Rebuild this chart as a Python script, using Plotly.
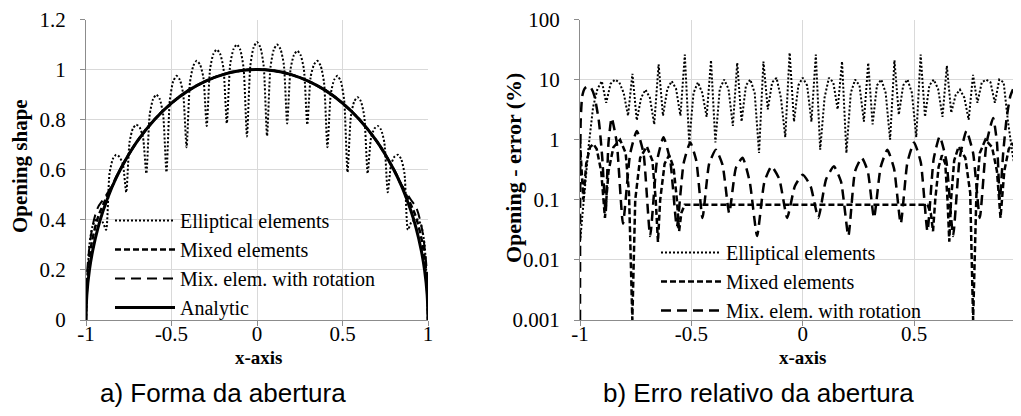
import plotly.graph_objects as go

# ---------------- data: a) opening shape ----------------
x_smooth = [-1, -0.995, -0.98, -0.96, -0.93, -0.9, -0.85, -0.8, -0.7, -0.6, -0.5, -0.4, -0.3, -0.2, -0.1, 0,
            0.1, 0.2, 0.3, 0.4, 0.5, 0.6, 0.7, 0.8, 0.85, 0.9, 0.93, 0.96, 0.98, 0.995, 1]
analytic = [0, 0.100, 0.199, 0.280, 0.368, 0.436, 0.527, 0.600, 0.714, 0.800, 0.866, 0.917, 0.954, 0.980, 0.995, 1.000,
            0.995, 0.980, 0.954, 0.917, 0.866, 0.800, 0.714, 0.600, 0.527, 0.436, 0.368, 0.280, 0.199, 0.100, 0]
mixed_shape = [0, 0.14, 0.25, 0.33, 0.41, 0.46, 0.53, 0.60, 0.714, 0.800, 0.866, 0.917, 0.954, 0.980, 0.995, 1.000,
               0.995, 0.980, 0.954, 0.917, 0.866, 0.800, 0.714, 0.60, 0.53, 0.46, 0.41, 0.33, 0.25, 0.14, 0]
rotation_shape = [0, 0.17, 0.29, 0.38, 0.45, 0.48, 0.535, 0.603, 0.714, 0.800, 0.866, 0.917, 0.954, 0.980, 0.995, 1.000,
                  0.995, 0.980, 0.954, 0.917, 0.866, 0.800, 0.714, 0.603, 0.535, 0.48, 0.45, 0.38, 0.29, 0.17, 0]

# sampling grid of the elliptical-element solution (17 elements, 6 samples each)
x_ell = [round(-1 + i / 51, 4) for i in range(103)]
elliptical_shape = [
    0.000, 0.298, 0.377, 0.400, 0.398, 0.390,
    0.360, 0.584, 0.643, 0.660, 0.651, 0.622,
    0.510, 0.711, 0.765, 0.780, 0.769, 0.730,
    0.585, 0.820, 0.882, 0.900, 0.882, 0.821,
    0.590, 0.877, 0.953, 0.975, 0.959, 0.902,
    0.690, 0.947, 1.015, 1.035, 1.020, 0.969,
    0.775, 1.002, 1.063, 1.080, 1.063, 1.005,
    0.785, 1.020, 1.082, 1.100, 1.079, 1.006,
    0.733, 1.014, 1.089, 1.110, 1.089, 1.014,
    0.735, 1.007, 1.079, 1.100, 1.082, 1.020,
    0.785, 1.001, 1.058, 1.075, 1.058, 1.000,
    0.780, 0.970, 1.020, 1.035, 1.015, 0.947,
    0.690, 0.902, 0.959, 0.975, 0.953, 0.877,
    0.590, 0.814, 0.873, 0.890, 0.873, 0.812,
    0.585, 0.727, 0.764, 0.775, 0.760, 0.707,
    0.510, 0.622, 0.652, 0.660, 0.643, 0.584,
    0.360, 0.390, 0.398, 0.400, 0.377, 0.298,
    0.000]

# ---------------- data: b) relative error (%) ----------------
elliptical_err = [
    0.02, 0.12, 0.8, 3.5, 7, 9.4,
    4.1, 8.5, 10, 9, 6, 2.5,
    12.5, 2.1, 5, 6.8, 5, 1.8,
    18, 2.5, 7, 9.4, 7, 2.5,
    26, 0.9, 6, 9, 6, 2.4,
    21, 0.9, 7, 10, 7, 1.7,
    19, 2.0, 8, 10, 6, 0.6,
    20, 3.2, 9, 10.7, 5, 1.1,
    28, 2.0, 8, 10.7, 8, 2.0,
    26, 0.68, 5, 10.7, 9, 3.2,
    20, 0.6, 6, 10, 8, 2.0,
    19, 1.8, 8, 10, 6, 1.0,
    21, 2.6, 8, 10, 6, 1.1,
    26, 2.4, 8, 10, 7, 2.4,
    17, 2.8, 5.5, 6.8, 5, 2.15,
    12, 4.1, 9, 10, 9, 4.1,
    10, 9, 2, 0.6, 0.2, 0.08,
    0.02]

x_mixed_err = [-1, -0.993, -0.985, -0.972, -0.955, -0.94, -0.925, -0.905, -0.888, -0.872, -0.85, -0.82, -0.795,
               -0.78, -0.765, -0.752, -0.73, -0.7, -0.675, -0.66, -0.65, -0.64, -0.62, -0.6, -0.58, -0.565,
               -0.555, -0.545, -0.53, 0.56, 0.575, 0.585, 0.595, 0.61, 0.625, 0.64, 0.65, 0.658, 0.666, 0.68, 0.7,
               0.73, 0.752, 0.765, 0.78, 0.795, 0.82, 0.85, 0.872, 0.888, 0.905, 0.925, 0.94, 0.955, 0.972,
               0.985, 0.993, 1]
mixed_err = [0.9, 0.3, 0.1, 0.4, 0.75, 0.85, 0.7, 0.3, 0.05, 0.3, 0.75, 1.0, 0.6,
             0.13, 0.001, 0.1, 0.5, 0.77, 0.45, 0.1, 0.02, 0.1, 0.4, 0.55, 0.35, 0.1,
             0.03, 0.06, 0.083, 0.083, 0.06, 0.03, 0.1, 0.35, 0.55, 0.4, 0.1, 0.02, 0.1, 0.45, 0.77,
             0.5, 0.13, 0.001, 0.13, 0.6, 1.0, 0.75, 0.3, 0.05, 0.3, 0.7, 0.85, 0.75, 0.4,
             0.1, 0.3, 0.9]

x_rot_err = [-1, -0.997, -0.99, -0.978, -0.965, -0.95, -0.935, -0.915, -0.9, -0.885, -0.872, -0.858, -0.835,
             -0.807, -0.775, -0.745, -0.715, -0.685, -0.655, -0.625, -0.595, -0.565, -0.535, -0.505, -0.478,
             -0.45, -0.42, -0.39, -0.36, -0.33, -0.3, -0.27, -0.238, -0.205, -0.172, -0.14, -0.105, -0.07,
             -0.035, 0, 0.035, 0.07, 0.105, 0.14, 0.172, 0.205, 0.235, 0.265, 0.292, 0.32, 0.35, 0.38, 0.41,
             0.44, 0.47, 0.5, 0.53, 0.56, 0.588, 0.615, 0.645, 0.675, 0.705, 0.735, 0.765, 0.795, 0.825, 0.855,
             0.872, 0.885, 0.9, 0.915, 0.932, 0.948, 0.962, 0.977, 0.99, 0.997, 1]
rot_err = [0.001, 2.0, 5.3, 7.2, 7.7, 7.2, 5.3, 2.0, 0.5, 0.06, 0.9, 2.3, 0.9,
           0.04, 0.58, 1.4, 0.6, 0.025, 0.43, 1.1, 0.45, 0.035, 0.4, 0.9, 0.45,
           0.05, 0.4, 0.68, 0.38, 0.06, 0.34, 0.5, 0.2, 0.025, 0.2, 0.36, 0.22, 0.05,
           0.17, 0.26, 0.17, 0.05, 0.22, 0.36, 0.2, 0.025, 0.3, 0.5, 0.3, 0.05, 0.35, 0.68, 0.33,
           0.04, 0.42, 0.9, 0.42, 0.03, 0.48, 1.13, 0.44, 0.025, 0.5, 1.4, 0.6, 0.05, 0.87, 2.3,
           0.9, 0.1, 0.6, 2.2, 5.3, 7.3, 7.7, 7.2, 5.3, 2.0, 0.001]

x_ticks_a = [-1, -0.5, 0, 0.5, 1]
x_ticktext_a = ["-1", "-0.5", "0", "0.5", "1"]
y_ticks_a = [0, 0.2, 0.4, 0.6, 0.8, 1, 1.2]
y_ticktext_a = ["0", "0.2", "0.4", "0.6", "0.8", "1", "1.2"]
x_ticks_b = [-1, -0.5, 0, 0.5]
x_ticktext_b = ["-1", "-0.5", "0", "0.5"]
y_ticks_b = [0.001, 0.01, 0.1, 1, 10, 100]
y_ticktext_b = ["0.001", "0.01", "0.1", "1", "10", "100"]

names = ["Elliptical elements", "Mixed elements", "Mix. elem. with rotation", "Analytic"]

SERIF = "Liberation Serif"
SANS = "Liberation Sans"
DOT = "2px,2px"
SHORT = "6px,3px"
LONG = "10px,6px"

fig = go.Figure()
# a)
fig.add_trace(go.Scatter(x=x_ell, y=elliptical_shape, name=names[0], mode="lines",
                         line=dict(color="black", width=2, dash=DOT, shape="spline", smoothing=0.6),
                         xaxis="x", yaxis="y", legend="legend"))
fig.add_trace(go.Scatter(x=x_smooth, y=mixed_shape, name=names[1], mode="lines",
                         line=dict(color="black", width=2.5, dash=SHORT, shape="spline"),
                         xaxis="x", yaxis="y", legend="legend"))
fig.add_trace(go.Scatter(x=x_smooth, y=rotation_shape, name=names[2], mode="lines",
                         line=dict(color="black", width=2, dash=LONG, shape="spline"),
                         xaxis="x", yaxis="y", legend="legend"))
fig.add_trace(go.Scatter(x=x_smooth, y=analytic, name=names[3], mode="lines",
                         line=dict(color="black", width=3, shape="spline"),
                         xaxis="x", yaxis="y", legend="legend"))
# b)
fig.add_trace(go.Scatter(x=x_ell, y=elliptical_err, name=names[0], mode="lines",
                         line=dict(color="black", width=2, dash=DOT),
                         xaxis="x2", yaxis="y2", legend="legend2"))
fig.add_trace(go.Scatter(x=x_mixed_err, y=mixed_err, name=names[1], mode="lines",
                         line=dict(color="black", width=2.5, dash=SHORT),
                         xaxis="x2", yaxis="y2", legend="legend2"))
fig.add_trace(go.Scatter(x=x_rot_err, y=rot_err, name=names[2], mode="lines",
                         line=dict(color="black", width=2.5, dash=LONG, shape="spline", smoothing=0.5),
                         xaxis="x2", yaxis="y2", legend="legend2"))

W, H = 1021, 416
OFF = 8  # the page places the figure 8 px from the window's top-left corner


def px(sx):
    """screen x (px) -> paper fraction"""
    return (sx - OFF) / W


def py(sy):
    """screen y (px) -> paper fraction"""
    return 1 - (sy - OFF) / H


axis_common = dict(showgrid=True, gridcolor="#d9d9d9", gridwidth=1, zeroline=False,
                   showline=True, linecolor="#8c8c8c", linewidth=1.3,
                   ticks="outside", ticklen=5, tickcolor="#8c8c8c", tickwidth=1, automargin=False,
                   ticklabeloverflow="allow",
                   tickfont=dict(family=SERIF, size=21, color="black"))

fig.update_layout(
    width=W, height=H,
    margin=dict(l=0, r=0, t=0, b=0, pad=0, autoexpand=False),
    paper_bgcolor="white", plot_bgcolor="white",
    xaxis=dict(domain=[px(86), px(428)], range=[-1, 1], tickvals=x_ticks_a, ticktext=x_ticktext_a,
               anchor="y", ticklabelstandoff=-10, **axis_common),
    yaxis=dict(domain=[py(320), py(19.5)], range=[0, 1.2], tickvals=y_ticks_a, ticktext=y_ticktext_a,
               anchor="x", ticklabelstandoff=10, **axis_common),
    xaxis2=dict(domain=[px(580), px(1021)], range=[-1, 0.98], tickvals=x_ticks_b, ticktext=x_ticktext_b,
                anchor="y2", ticklabelstandoff=-10, **axis_common),
    yaxis2=dict(domain=[py(320), py(19.5)], type="log", range=[-3, 2], tickvals=y_ticks_b,
                ticktext=y_ticktext_b, anchor="x2", ticklabelstandoff=10, **axis_common),
    legend=dict(x=px(110), y=py(201), xanchor="left", yanchor="top", bgcolor="rgba(0,0,0,0)",
                font=dict(family=SERIF, size=20, color="black"), itemwidth=60, tracegroupgap=0),
    legend2=dict(x=px(656), y=py(233), xanchor="left", yanchor="top", bgcolor="rgba(0,0,0,0)",
                 font=dict(family=SERIF, size=20, color="black"), itemwidth=60, tracegroupgap=0),
    showlegend=True,
)

annotations = [
    dict(text="<b>x-axis</b>", x=px(259), y=py(357), font=dict(family=SERIF, size=19)),
    dict(text="<b>x-axis</b>", x=px(803), y=py(357), font=dict(family=SERIF, size=19)),
    dict(text="<b>Opening shape</b>", x=px(20), y=py(166), textangle=-90, font=dict(family=SERIF, size=21)),
    dict(text="<b>Opening - error (%)</b>", x=px(513), y=py(168), textangle=-90,
         font=dict(family=SERIF, size=22)),
    dict(text="a) Forma da abertura", x=px(223), y=py(393), font=dict(family=SANS, size=26)),
    dict(text="b) Erro relativo da abertura", x=px(758), y=py(393), font=dict(family=SANS, size=26)),
]
for a in annotations:
    a.update(xref="paper", yref="paper", showarrow=False, xanchor="center", yanchor="middle")
    a["font"]["color"] = "black"
fig.update_layout(annotations=annotations)

fig.write_html("out.html")
